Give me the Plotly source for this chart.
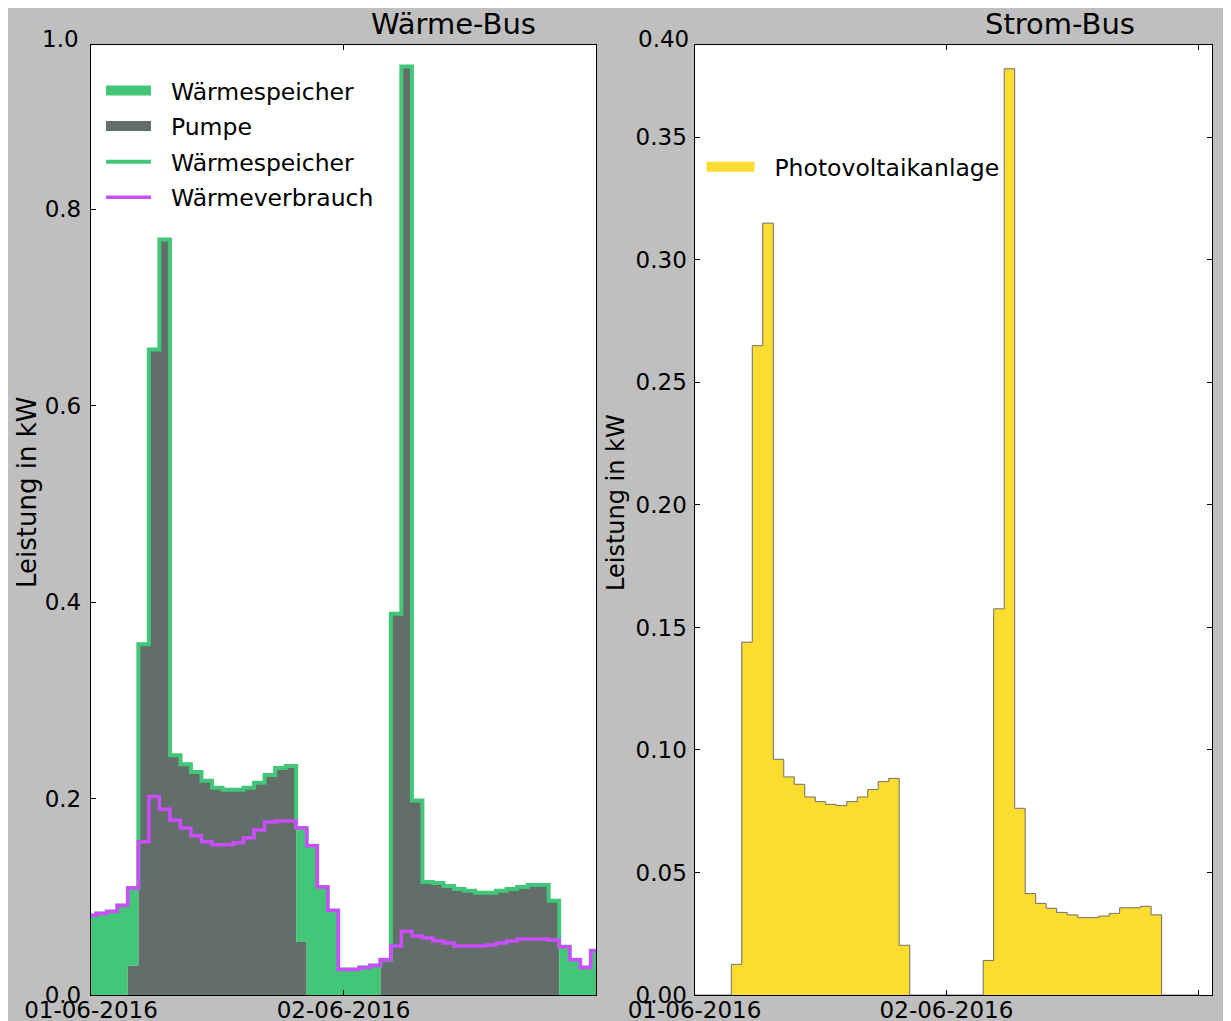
import pandas as pd
import plotly.graph_objects as go

# ---------------- data (hourly, 01-06-2016 00:00 .. 03-06-2016 00:00) ----------------
start = "2016-06-01 00:00"
n_hours = 49
times = pd.date_range(start, periods=n_hours, freq="h")

# Wärme-Bus [kW]
pumpe = [0, 0, 0, 0, 0.030, 0.357, 0.657, 0.769, 0.244, 0.235,
         0.227, 0.218, 0.211, 0.209, 0.209, 0.211, 0.216, 0.224, 0.231, 0.233,
         0.054, 0, 0, 0, 0, 0, 0, 0, 0.036, 0.388,
         0.945, 0.198, 0.115, 0.114, 0.111, 0.108, 0.106, 0.104, 0.104, 0.106,
         0.108, 0.110, 0.112, 0.112, 0.096, 0, 0, 0, 0]
waermespeicher = [0.081, 0.083, 0.085, 0.091, 0.079, 0, 0, 0, 0, 0,
                  0, 0, 0, 0, 0, 0, 0, 0, 0, 0,
                  0.116, 0.152, 0.110, 0.086, 0.026, 0.026, 0.028, 0.030, 0, 0,
                  0, 0, 0, 0, 0, 0, 0, 0, 0, 0,
                  0, 0, 0, 0, 0, 0.049, 0.036, 0.028, 0.045]
waermeverbrauch = [0.081, 0.083, 0.085, 0.091, 0.109, 0.156, 0.202, 0.189, 0.178, 0.170,
                   0.162, 0.156, 0.153, 0.153, 0.155, 0.160, 0.168, 0.176, 0.177, 0.177,
                   0.170, 0.152, 0.110, 0.086, 0.026, 0.026, 0.028, 0.030, 0.036, 0.050,
                   0.065, 0.060, 0.058, 0.055, 0.053, 0.050, 0.050, 0.050, 0.051, 0.053,
                   0.055, 0.057, 0.057, 0.057, 0.056, 0.049, 0.036, 0.028, 0.045]

# Strom-Bus [kW]
photovoltaik = [0, 0, 0, 0, 0.0125, 0.144, 0.265, 0.315, 0.0962, 0.089,
                0.086, 0.0808, 0.0789, 0.0778, 0.0773, 0.0789, 0.0808, 0.0839, 0.0871, 0.0884,
                0.0203, 0, 0, 0, 0, 0, 0, 0, 0.0141, 0.1576,
                0.378, 0.0762, 0.0414, 0.0374, 0.0354, 0.0337, 0.0327, 0.0316, 0.0316, 0.0322,
                0.0333, 0.0356, 0.0356, 0.0362, 0.0327, 0, 0, 0, 0]

tick_vals = ["2016-06-01", "2016-06-02", "2016-06-03"]
tick_text = ["01-06-2016", "02-06-2016", ""]
left_yticks = [0.0, 0.2, 0.4, 0.6, 0.8]
right_yticks = [0.0, 0.05, 0.10, 0.15, 0.20, 0.25, 0.30, 0.35]

# ---------------- style ----------------
FONT = "DejaVu Sans"
GREEN = "#42c677"
GREY = "#636e6a"
PURPLE = "#cc4cff"
YELLOW = "#fcdc2f"
BG = "#bfbfbf"
PAD = "\u00a0\u00a0"

total = [p + s for p, s in zip(pumpe, waermespeicher)]

fig = go.Figure()

# Pumpe (bottom of stack)
fig.add_trace(go.Scatter(x=times, y=pumpe, name="Pumpe", mode="none",
                         fill="tozeroy", fillcolor=GREY, line_shape="hvh",
                         showlegend=False, xaxis="x", yaxis="y"))
# Wärmespeicher (stacked on Pumpe)
fig.add_trace(go.Scatter(x=times, y=total, name="Wärmespeicher", mode="none",
                         fill="tonexty", fillcolor=GREEN, line_shape="hvh",
                         showlegend=False, xaxis="x", yaxis="y"))
# Wärmespeicher line (stack top)
fig.add_trace(go.Scatter(x=times, y=total, name="Wärmespeicher", mode="lines",
                         line=dict(color=GREEN, width=4, shape="hvh"),
                         showlegend=False, xaxis="x", yaxis="y"))
# Wärmeverbrauch
fig.add_trace(go.Scatter(x=times, y=waermeverbrauch, name="Wärmeverbrauch", mode="lines",
                         line=dict(color=PURPLE, width=3.5, shape="hvh"),
                         showlegend=False, xaxis="x", yaxis="y"))
# Photovoltaikanlage
fig.add_trace(go.Scatter(x=times, y=photovoltaik, name="Photovoltaikanlage", mode="lines",
                         fill="tozeroy", fillcolor=YELLOW,
                         line=dict(color="#6e6e6e", width=1, shape="hvh"),
                         showlegend=False, xaxis="x2", yaxis="y2"))

# legend entries (patch style for areas, line style for lines)
legend_items = [
    ("Wärmespeicher", GREEN, 17, "legend", "g1"),
    ("Pumpe", GREY, 17, "legend", "g2"),
    ("Wärmespeicher", GREEN, 4, "legend", "g3"),
    ("Wärmeverbrauch", PURPLE, 3.5, "legend", "g4"),
    ("Photovoltaikanlage", YELLOW, 17, "legend2", "g5"),
]
for name, col, w, lg, grp in legend_items:
    fig.add_trace(go.Scatter(x=[None], y=[None], name=PAD + name, mode="lines",
                             line=dict(color=col, width=w), legend=lg, legendgroup=grp,
                             xaxis="x" if lg == "legend" else "x2",
                             yaxis="y" if lg == "legend" else "y2", hoverinfo="skip"))

axis_common = dict(showline=True, linecolor="black", linewidth=1.3,
                   ticks="inside", ticklen=5, tickcolor="black", tickwidth=1,
                   showgrid=False, zeroline=False, automargin=False,
                   tickfont=dict(family=FONT, size=23, color="black"))

fig.update_layout(
    width=1223, height=1013,
    margin=dict(l=83, r=19, t=37, b=26, autoexpand=False),
    paper_bgcolor=BG, plot_bgcolor="white",
    font=dict(family=FONT, color="black"),
    showlegend=True,
    xaxis=dict(domain=[0, 0.4505], type="date", anchor="y",
               range=["2016-06-01 00:00", "2016-06-03 00:00"],
               tickvals=tick_vals, ticktext=tick_text, mirror="ticks",
               ticklabelstandoff=-6, **axis_common),
    yaxis=dict(domain=[0, 1], anchor="x", range=[0, 0.967],
               tickvals=left_yticks, tickformat=".1f", mirror=True,
               ticklabelstandoff=4, **axis_common),
    xaxis2=dict(domain=[0.5384, 1], type="date", anchor="y2",
                range=["2016-06-01 00:00", "2016-06-03 01:18"],
                tickvals=tick_vals, ticktext=tick_text, mirror="ticks",
                ticklabelstandoff=-6, **axis_common),
    yaxis2=dict(domain=[0, 1], anchor="x2", range=[0, 0.3877],
                tickvals=right_yticks, tickformat=".2f", mirror="ticks",
                ticklabelstandoff=2, **axis_common),
    legend=dict(x=0.0089, y=0.975, xanchor="left", yanchor="top",
                bgcolor="rgba(0,0,0,0)", borderwidth=0, traceorder="grouped",
                itemwidth=45, tracegroupgap=2,
                font=dict(family=FONT, size=23.5, color="black")),
    legend2=dict(x=0.5446, y=0.8947, xanchor="left", yanchor="top",
                 bgcolor="rgba(0,0,0,0)", borderwidth=0, traceorder="normal",
                 itemwidth=48,
                 font=dict(family=FONT, size=23.5, color="black")),
)

# titles, y-axis labels and top tick labels
ann = [
    dict(text="Wärme-Bus", x=(453 - 91) / 1121, y=(995 - 24) / 950, size=29, angle=0),
    dict(text="Strom-Bus", x=(1060 - 91) / 1121, y=(995 - 24) / 950, size=29, angle=0),
    dict(text="Leistung in kW", x=(27 - 91) / 1121, y=(995 - 493) / 950, size=26, angle=-90),
    dict(text="Leistung in kW", x=(616 - 91) / 1121, y=(995 - 503) / 950, size=24, angle=-90),
]
for a in ann:
    fig.add_annotation(text=a["text"], x=a["x"], y=a["y"], xref="paper", yref="paper",
                       xanchor="center", yanchor="middle", showarrow=False,
                       textangle=a["angle"], font=dict(family=FONT, size=a["size"], color="black"))

fig.add_annotation(text="1.0", x=0, y=1, xref="paper", yref="paper", xanchor="right",
                   yanchor="middle", xshift=-10, yshift=6, showarrow=False,
                   font=dict(family=FONT, size=23, color="black"))
fig.add_annotation(text="0.40", x=0.5384, y=1, xref="paper", yref="paper", xanchor="right",
                   yanchor="middle", xshift=-4, yshift=6, showarrow=False,
                   font=dict(family=FONT, size=23, color="black"))

fig.write_html("out.html")
